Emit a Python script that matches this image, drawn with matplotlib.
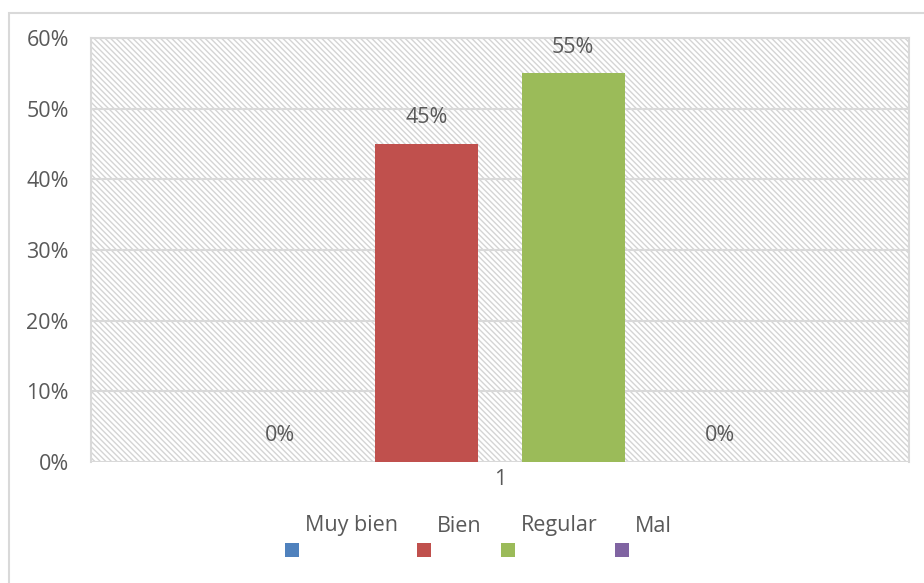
import matplotlib
matplotlib.use("Agg")
import matplotlib.pyplot as plt
from matplotlib.patches import Rectangle

categories = ["Muy bien", "Bien", "Regular", "Mal"]
values = [0, 45, 55, 0]
colors = ["#4f81bd", "#c0504d", "#9bbb59", "#8064a2"]
yticks = [0, 10, 20, 30, 40, 50, 60]
xtick_label = "1"

plt.rcParams["font.family"] = ["Open Sans", "DejaVu Sans"]
plt.rcParams["hatch.color"] = "#d4d4d4"
plt.rcParams["hatch.linewidth"] = 1.0
TXT = "#595959"
GRID = "#d9d9d9"
FS = 15.5

W, H = 924, 583
fig = plt.figure(figsize=(W / 100, H / 100), dpi=100)

# outer chart frame
fig.patches.append(Rectangle((9 / W, -0.1), 1.2, 1 - 13 / H + 0.1, transform=fig.transFigure,
                             fill=False, edgecolor=GRID, linewidth=1.5))

ax = fig.add_axes([91 / W, 1 - 462 / H, (909 - 91) / W, (462 - 38) / H])
ax.set_ylim(0, 60)
ax.set_xlim(-2.79, 2.79)

# hatched plot-area background
bg = Rectangle((0, 0), 1, 1, transform=ax.transAxes, facecolor="white",
               edgecolor="#d4d4d4", hatch="\\\\\\\\\\\\", linewidth=0, zorder=0)
ax.add_patch(bg)

for y in yticks:
    ax.axhline(y, color=GRID, linewidth=1.5, zorder=1)

spacing = 1.0
offsets = [(i - 1.5) * spacing for i in range(len(categories))]
ax.bar(offsets, values, width=0.70, color=colors, zorder=3)

for x, v in zip(offsets, values):
    ax.text(x, v + 3.7, f"{v}%", ha="center", va="center", fontsize=FS, color=TXT, zorder=4)

for s in ["top", "right", "left"]:
    ax.spines[s].set_color(GRID)
    ax.spines[s].set_linewidth(1.5)
ax.spines["bottom"].set_visible(False)

ax.set_yticks(yticks)
ax.set_yticklabels([f"{t}%" for t in yticks], fontsize=FS, color=TXT)
ax.tick_params(axis="y", length=0, pad=16)
ax.set_xticks([0])
ax.set_xticklabels([xtick_label], fontsize=FS, color=TXT)
ax.tick_params(axis="x", length=0, pad=5)

# legend: label above, swatch below-left
leg_text_x = [305, 437, 521, 635]
leg_box_x = [285, 417, 501, 615]
for name, col, tx, bx in zip(categories, colors, leg_text_x, leg_box_x):
    fig.text(tx / W, 1 - 526 / H, name, ha="left", va="center", fontsize=FS, color=TXT)
    fig.patches.append(Rectangle((bx / W, 1 - 557 / H), 14 / W, 14 / H,
                                 transform=fig.transFigure, facecolor=col, edgecolor="none"))

fig.savefig("out.png", dpi=100)
